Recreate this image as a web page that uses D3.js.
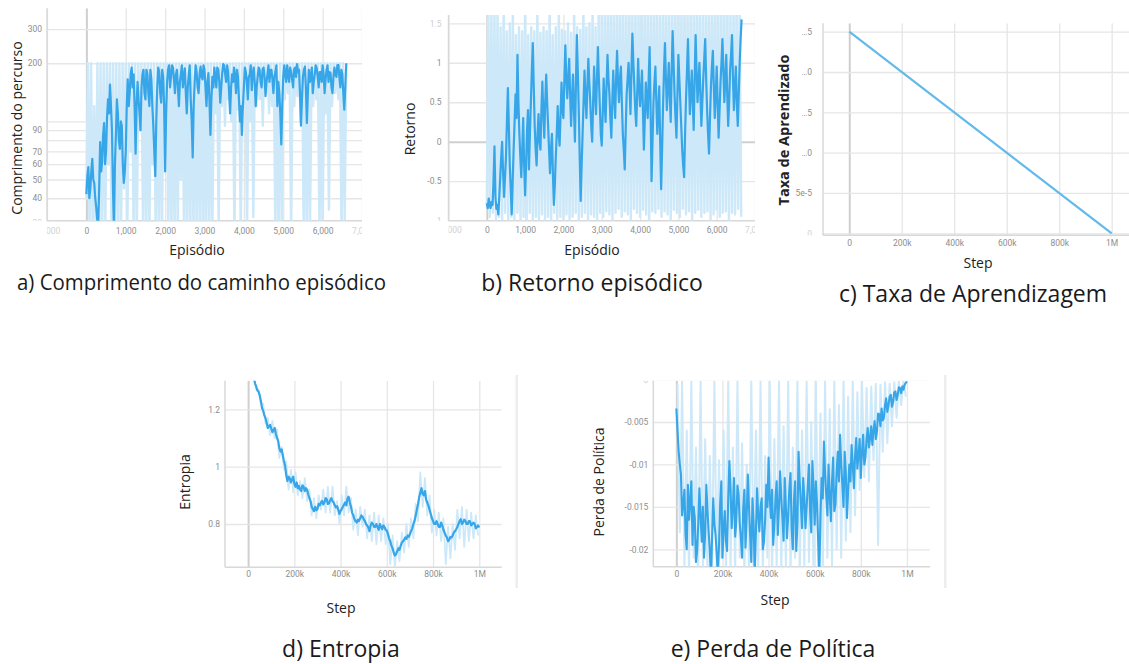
<!DOCTYPE html>
<html>
<head>
<meta charset="utf-8">
<script src="https://cdn.jsdelivr.net/npm/d3@7"></script>
<style>
  body { margin: 0; background: #fff; }
  svg { display: block; }
</style>
</head>
<body>
<svg id="fig" width="1129" height="664"></svg>
<script>
// ---------- data ----------
// a) episode length, smoothed (every 25 episodes) and raw (every 40 episodes)
const smoothLenA = [42,52,58,40,45,55,64,50,48,40,36,31,29,45,78,55,62,85,98,60,
  70,105,130,110,155,120,90,45,28,60,85,130,110,80,72,100,95,60,48,55,
  70,120,165,120,140,175,190,150,175,120,68,120,160,130,110,90,150,175,185,140,
  130,185,175,140,120,185,165,120,95,70,52,100,150,190,180,140,125,185,170,120,
  55,110,160,185,195,150,170,195,190,165,140,175,185,150,120,160,175,195,150,170,
  188,140,110,150,175,195,130,100,65,120,160,195,180,150,140,175,192,170,165,195,
  185,150,120,160,178,130,85,130,170,150,190,170,150,190,185,160,125,150,178,198,
  195,175,160,195,180,140,110,150,175,160,190,170,140,185,170,130,100,120,85,120,
  150,190,180,160,130,170,175,195,145,175,190,160,120,150,170,190,185,160,150,185,
  190,170,135,160,175,195,160,185,185,165,140,170,180,195,120,160,140,110,76,120,
  170,195,175,160,195,175,160,190,180,165,150,185,190,170,198,180,185,140,95,130,
  170,185,192,150,98,140,185,160,170,190,140,160,175,195,188,170,150,180,180,160,
  195,175,140,165,185,195,160,180,178,150,140,170,190,175,170,195,196,170,150,185,
  175,140,115,150,200];
const rawLenA = [40,200,25,200,25,120,25,200,25,200,
  25,200,25,200,60,200,25,200,25,200,
  25,200,25,200,45,200,25,200,70,200,
  25,200,25,200,90,200,25,200,25,200,
  25,200,60,200,25,200,25,200,25,200,
  80,200,25,200,25,200,25,200,25,200,
  50,200,25,200,25,200,25,200,25,200,
  25,200,25,200,25,200,25,200,25,200,
  25,200,110,200,28,200,120,200,95,200,
  130,200,100,200,25,200,115,200,25,200,
  120,200,25,200,100,200,32,200,120,200,
  130,200,95,200,140,200,110,200,120,200,
  25,200,25,200,30,200,130,200,140,200,
  25,200,120,200,135,200,100,200,25,200,
  25,200,28,200,120,200,130,200,25,200,
  25,200,110,200,35,200,120,200,140,200,
  130,200,25,200,30,200];
const episodesSmoothA = d3.range(0, 6601, 25);
const episodesRawA = d3.range(0, 6601, 40);

// b) episodic return, smoothed (every 25 episodes) and raw (every 40 episodes)
const smoothRetB = [-0.78,-0.84,-0.72,-0.80,-0.84,-0.76,-0.80,-0.50,-0.06,-0.70,
  -0.85,-0.80,-0.92,-0.70,-0.45,-0.20,0.0,-0.40,-0.7,-0.45,
  -0.2,0.25,0.68,0.2,-0.3,-0.6,-0.92,-0.5,-0.1,0.25,
  0.6,0.3,1.1,0.5,0.1,-0.2,-0.45,-0.1,0.3,-0.3,
  -0.68,-0.3,0.15,0.4,-0.35,0.1,0.5,0.9,1.25,0.7,
  0.2,-0.1,-0.3,0.1,0.35,0.0,-0.1,0.4,0.76,0.35,
  0.05,0.5,0.85,0.5,0.2,-0.1,-0.4,-0.1,0.1,-0.4,
  -0.8,-0.55,-0.2,0.1,0.45,0.1,-0.05,0.35,0.75,0.4,
  0.3,0.8,1.22,0.8,0.55,0.8,1.05,0.6,0.2,0.55,
  0.85,0.4,0.0,0.7,1.35,0.9,0.4,-0.2,-0.75,-0.3,
  0.1,0.5,0.9,0.55,0.3,0.7,1.05,0.75,0.5,0.2,
  0.0,0.5,0.95,0.6,0.35,0.8,1.2,0.8,0.45,0.1,
  -0.05,0.35,0.8,0.5,0.25,0.7,1.1,0.8,0.6,0.3,
  0.05,0.5,0.9,0.55,0.3,0.8,1.15,0.75,0.5,0.8,
  0.95,0.5,0.1,-0.1,-0.35,0.15,0.6,0.8,1.0,0.7,
  0.35,0.9,1.37,1.0,0.7,0.4,0.2,0.6,1.05,0.7,
  0.45,0.65,0.9,0.4,-0.1,0.3,0.75,0.5,0.3,0.8,
  1.2,0.4,-0.5,0.0,0.5,0.75,0.95,0.5,0.1,0.4,
  0.7,0.0,-0.6,-0.1,0.45,0.9,1.25,0.8,0.4,0.7,
  1.0,0.6,0.25,0.9,1.4,1.0,0.6,0.3,0.05,0.6,
  1.1,0.8,0.5,0.2,-0.1,-0.3,-0.45,0.1,0.55,0.9,
  1.3,0.8,0.35,0.6,0.9,0.5,0.15,0.8,1.35,0.9,
  0.5,0.75,1.0,0.6,0.2,0.5,0.8,1.05,1.3,0.8,
  0.4,0.1,-0.15,0.3,0.7,0.95,1.15,0.7,0.3,0.6,
  0.95,0.5,0.05,0.4,0.75,1.0,1.3,0.9,0.5,0.8,
  1.1,0.6,0.2,0.5,0.9,1.1,1.35,0.8,0.4,0.7,
  0.95,0.5,0.2,0.6,1.0,1.3,1.55];
const rawRetB = [-0.8,1.7,-0.95,1.7,-0.9,1.7,-1.0,1.7,-0.95,1.45,
  -1.0,1.7,-0.9,1.4,-1.0,1.5,-0.95,1.7,-1.0,1.35,
  -0.9,1.45,-1.0,1.4,-0.95,1.8,-1.0,1.35,-0.9,1.45,
  -1.0,1.4,-0.95,1.7,-1.0,1.38,-0.92,1.45,-1.0,1.4,
  -0.95,1.75,-1.0,1.35,-0.9,1.45,-1.0,1.7,-0.95,1.42,
  -1.0,1.4,-0.92,1.5,-1.0,1.38,-0.95,1.7,-0.9,1.45,
  -1.0,1.42,-0.95,1.8,-0.9,1.45,-1.0,1.5,-0.92,1.7,
  -0.95,1.45,-1.0,1.6,-0.9,1.8,-0.95,1.7,-0.88,1.9,
  -0.92,1.75,-1.0,1.85,-0.9,1.7,-0.85,1.9,-0.95,1.8,
  -0.88,1.7,-0.92,1.95,-1.0,1.75,-0.85,1.8,-0.9,1.7,
  -0.95,1.9,-0.86,1.75,-0.92,1.85,-1.0,1.7,-0.88,1.9,
  -0.9,1.8,-0.85,1.7,-0.95,1.9,-0.88,1.75,-0.92,1.85,
  -1.0,1.7,-0.86,1.9,-0.9,1.8,-0.95,1.75,-0.85,1.9,
  -0.92,1.7,-0.88,1.85,-1.0,1.75,-0.9,1.9,-0.86,1.8,
  -0.95,1.7,-0.9,1.85,-0.88,1.75,-1.0,1.9,-0.92,1.8,
  -0.86,1.7,-0.95,1.9,-0.9,1.75,-0.88,1.85,-1.0,1.7,
  -0.9,1.8,-0.92,1.9,-0.85,1.7,-0.95];
const episodesSmoothB = d3.range(0, 6651, 25);
const episodesRawB = d3.range(0, 6641, 40);

// c) learning rate schedule (linear decay)
const lrSteps = [0, 1000000];
const lrValues = [2.5e-4, 0];

// d) entropy, smoothed (every 5k steps) and raw (every 10k, offset 5k)
const smoothEntD = [1.40,1.37,1.36,1.35,1.32,1.31,1.29,1.28,1.266,1.262,
  1.25,1.23,1.205,1.195,1.18,1.17,1.154,1.135,1.14,1.146,
  1.134,1.12,1.128,1.135,1.115,1.10,1.09,1.065,1.053,1.06,
  1.04,1.02,1.003,0.97,0.95,0.965,0.96,0.945,0.955,0.965,
  0.94,0.93,0.945,0.925,0.933,0.92,0.915,0.935,0.93,0.915,
  0.925,0.92,0.904,0.89,0.88,0.86,0.852,0.845,0.86,0.848,
  0.852,0.87,0.865,0.875,0.881,0.868,0.875,0.89,0.887,0.87,
  0.872,0.883,0.89,0.88,0.875,0.865,0.858,0.862,0.85,0.835,
  0.846,0.852,0.86,0.868,0.875,0.865,0.89,0.895,0.875,0.86,
  0.84,0.83,0.817,0.81,0.805,0.815,0.811,0.82,0.83,0.825,
  0.817,0.81,0.80,0.795,0.788,0.775,0.795,0.805,0.80,0.79,
  0.79,0.80,0.788,0.78,0.80,0.79,0.782,0.795,0.79,0.78,
  0.777,0.765,0.75,0.74,0.724,0.715,0.70,0.69,0.695,0.705,
  0.715,0.71,0.724,0.735,0.74,0.745,0.753,0.748,0.76,0.755,
  0.765,0.775,0.785,0.80,0.811,0.83,0.85,0.87,0.893,0.91,
  0.925,0.905,0.90,0.915,0.885,0.875,0.864,0.85,0.835,0.82,
  0.811,0.80,0.80,0.81,0.80,0.79,0.79,0.805,0.794,0.78,
  0.77,0.76,0.753,0.74,0.745,0.755,0.753,0.76,0.77,0.775,
  0.782,0.79,0.80,0.81,0.817,0.80,0.805,0.815,0.811,0.80,
  0.80,0.81,0.809,0.795,0.80,0.805,0.80,0.785,0.79,0.795,
  0.788];
const rawEntD = [1.39,1.33,1.31,1.27,1.27,1.22,1.22,1.15,1.17,1.11,
  1.16,1.10,1.13,1.03,1.07,0.99,1.02,0.92,0.99,0.91,
  0.98,0.90,0.95,0.89,0.96,0.88,0.92,0.83,0.89,0.82,
  0.90,0.85,0.92,0.84,0.93,0.84,0.93,0.83,0.88,0.80,
  0.90,0.83,0.93,0.84,0.89,0.78,0.85,0.76,0.86,0.79,
  0.85,0.75,0.83,0.74,0.84,0.73,0.83,0.74,0.82,0.73,
  0.80,0.66,0.76,0.65,0.74,0.67,0.77,0.70,0.80,0.72,
  0.82,0.75,0.87,0.81,0.98,0.86,0.96,0.83,0.90,0.77,
  0.85,0.76,0.84,0.74,0.82,0.66,0.79,0.68,0.80,0.71,
  0.85,0.75,0.86,0.72,0.85,0.74,0.84,0.75,0.83,0.76];
const stepsSmoothD = d3.range(0, 1000001, 5000);
const stepsRawD = d3.range(5000, 1000000, 10000);

// e) policy loss, smoothed (every 5k steps) and raw (every 10k, offset 5k)
const smoothLossE = [-0.0034,-0.0060,-0.0085,-0.0100,-0.0112,-0.0160,-0.0147,-0.0130,-0.0183,-0.0200,
  -0.0124,-0.0165,-0.0143,-0.0120,-0.0195,-0.0150,-0.0163,-0.0215,-0.0202,-0.0170,
  -0.0128,-0.0160,-0.0191,-0.0150,-0.0210,-0.0180,-0.0124,-0.0155,-0.0179,-0.0200,
  -0.0235,-0.0185,-0.0140,-0.0170,-0.0183,-0.0205,-0.0232,-0.0195,-0.0147,-0.0120,
  -0.0210,-0.0175,-0.0155,-0.0190,-0.0202,-0.0140,-0.0096,-0.0130,-0.0175,-0.0150,
  -0.0116,-0.0185,-0.0167,-0.0125,-0.0136,-0.0170,-0.0187,-0.0210,-0.0151,-0.0130,
  -0.0198,-0.0160,-0.0112,-0.0150,-0.0183,-0.0215,-0.0140,-0.0170,-0.0228,-0.0180,
  -0.0128,-0.0160,-0.0179,-0.0150,-0.0140,-0.0200,-0.0191,-0.0165,-0.0124,-0.0150,
  -0.0092,-0.0140,-0.0163,-0.0130,-0.0195,-0.0170,-0.0140,-0.0120,-0.0183,-0.0150,
  -0.0108,-0.0140,-0.0163,-0.0190,-0.0116,-0.0150,-0.0187,-0.0160,-0.0128,-0.0110,
  -0.0175,-0.0200,-0.0143,-0.0120,-0.0202,-0.0170,-0.0085,-0.0120,-0.0147,-0.0175,
  -0.0116,-0.0140,-0.0175,-0.0150,-0.0124,-0.0100,-0.0155,-0.0180,-0.0096,-0.0130,
  -0.0171,-0.0120,-0.0147,-0.0190,-0.0230,-0.0160,-0.0116,-0.0140,-0.0073,-0.0110,
  -0.0136,-0.0160,-0.0100,-0.0135,-0.0167,-0.0120,-0.0092,-0.0155,-0.0147,-0.0110,
  -0.0085,-0.0120,-0.0065,-0.0100,-0.0124,-0.0150,-0.0085,-0.0110,-0.0163,-0.0130,
  -0.0100,-0.0120,-0.0077,-0.0100,-0.0128,-0.0090,-0.0069,-0.0105,-0.0088,-0.0070,
  -0.0116,-0.0085,-0.0065,-0.0100,-0.0092,-0.0070,-0.0057,-0.0080,-0.0069,-0.0055,
  -0.0077,-0.0060,-0.0049,-0.0070,-0.0061,-0.0040,-0.0041,-0.0055,-0.0034,-0.0048,
  -0.0045,-0.0030,-0.0022,-0.0038,-0.0030,-0.0020,-0.0018,-0.0032,-0.0026,-0.0015,
  -0.0014,-0.0024,-0.0018,-0.0009,-0.0010,-0.0016,-0.0008,-0.0012,-0.0006,-0.0004,
  -0.0002];
const rawLossE = [-0.0005,-0.018,-0.0002,-0.022,-0.006,-0.023,-0.0002,-0.021,-0.008,-0.023,
  -0.0002,-0.022,-0.007,-0.023,-0.009,-0.022,-0.0002,-0.023,-0.0095,-0.021,
  -0.006,-0.023,-0.0002,-0.022,-0.008,-0.023,-0.0002,-0.021,-0.0075,-0.023,
  -0.01,-0.022,-0.0002,-0.023,-0.006,-0.022,-0.0002,-0.023,-0.009,-0.021,
  -0.0002,-0.023,-0.007,-0.022,-0.0002,-0.023,-0.0055,-0.022,-0.0002,-0.023,
  -0.008,-0.021,-0.0002,-0.023,-0.006,-0.022,-0.0002,-0.0215,-0.005,-0.023,
  -0.0002,-0.022,-0.004,-0.023,-0.0002,-0.021,-0.0035,-0.022,-0.0002,-0.02,
  -0.003,-0.021,-0.0002,-0.019,-0.002,-0.018,-0.0002,-0.016,-0.0015,-0.013,
  -0.0002,-0.0115,-0.001,-0.012,-0.0008,-0.0095,-0.0005,-0.0195,-0.0006,-0.0085,
  -0.0003,-0.0075,-0.0005,-0.0055,-0.0003,-0.0045,-0.0002,-0.003,-0.0001,-0.002];
const stepsSmoothE = d3.range(0, 1000001, 5000);
const stepsRawE = d3.range(5000, 1000000, 10000);

// ---------- tick labels ----------
const episodeTicks = [-1000,0,1000,2000,3000,4000,5000,6000,7000];
const stepTicks = [0,200000,400000,600000,800000,1000000];
const stepTickLabels = ["0","200k","400k","600k","800k","1M"];
const lenTicksA = [30,40,50,60,70,80,90,100,200,300];
const lenLabelsA = ["30","40","50","60","70","","90","","200","300"];
const retTicksB = [-1,-0.5,0,0.5,1,1.5];
const retLabelsB = ["-1","-0.5","0","0.5","1","1.5"];
const lrTicksC = [0,5e-5,1e-4,1.5e-4,2e-4,2.5e-4];
const lrLabelsC = ["0","5e-5","\u20260","\u20265","\u20260","\u20265"];
const entTicksD = [0.8,1,1.2];
const entLabelsD = ["0.8","1","1.2"];
const lossTicksE = [-0.02,-0.015,-0.01,-0.005,0];
const lossLabelsE = ["-0.02","-0.015","-0.01","-0.005","0"];

// ---------- drawing ----------
const svg = d3.select("#fig");
const defs = svg.append("defs");
const DARK = "#36a6e8", LIGHT = "#cde8f8";
const TICK_FONT = "Roboto, 'Liberation Sans', sans-serif";
const TEXT_FONT = "'Open Sans', 'Noto Sans', sans-serif";

function clipRect(id, x, y, w, h) {
  defs.append("clipPath").attr("id", id)
    .append("rect").attr("x", x).attr("y", y).attr("width", w).attr("height", h);
  return `url(#${id})`;
}

function labelFor(ticks, labels) {
  return d => labels[ticks.indexOf(d)];
}

function panel(o) {
  const [X0, X1] = o.x.range();
  const [Y1, Y0] = o.y.range();
  const g = svg.append("g");

  // vertical grid + x tick labels
  const gx = g.append("g")
    .attr("clip-path", clipRect(o.id + "-x", X0, Y0, X1 - X0, Y1 - Y0 + 30))
    .append("g").attr("transform", `translate(0,${Y1})`)
    .call(d3.axisBottom(o.x).tickValues(o.xTicks).tickFormat(o.xFmt)
      .tickSize(-(Y1 - Y0)).tickPadding(o.xPad));
  gx.select(".domain").remove();
  gx.selectAll(".tick line")
    .attr("stroke", d => d === 0 ? "#cfcfcf" : "#e6e6e6")
    .attr("stroke-width", d => d === 0 ? 2 : 1.3);
  gx.selectAll(".tick text")
    .attr("font-family", TICK_FONT).attr("font-size", 8.5)
    .attr("fill", d => o.xFaint && o.xFaint.includes(d) ? "#d2d2d2" : "#8e8e8e");

  // horizontal grid + y tick labels
  const gy = g.append("g")
    .attr("clip-path", clipRect(o.id + "-y", X0 - 80, Y0, X1 - X0 + 80, Y1 - Y0))
    .append("g").attr("transform", `translate(${X0},0)`)
    .call(d3.axisLeft(o.y).tickValues(o.yTicks).tickFormat(o.yFmt)
      .tickSize(-(X1 - X0)).tickPadding(o.yPad));
  gy.select(".domain").remove();
  gy.selectAll(".tick line")
    .attr("stroke", d => (o.yZero && d === 0) ? "#cfcfcf" : "#e6e6e6")
    .attr("stroke-width", d => (o.yZero && d === 0) ? 2 : 1.3);
  gy.selectAll(".tick text")
    .attr("font-family", TICK_FONT).attr("font-size", 8.5)
    .attr("fill", d => o.yFaint && o.yFaint.includes(d) ? "#cfcfcf" : "#8e8e8e");

  // frame: left and bottom axis lines
  g.append("line").attr("x1", X0).attr("x2", X0).attr("y1", Y0).attr("y2", Y1)
    .attr("stroke", "#d8d8d8").attr("stroke-width", 1.5);
  g.append("line").attr("x1", X0).attr("x2", X1).attr("y1", Y1).attr("y2", Y1)
    .attr("stroke", "#d8d8d8").attr("stroke-width", 1.5);

  // series
  const plotClip = clipRect(o.id + "-p", X0, Y0, X1 - X0, Y1 - Y0);
  o.series.forEach(s => {
    const pts = s.xs.map((xv, i) => [xv, s.ys[i]]);
    g.append("path").datum(pts)
      .attr("clip-path", plotClip)
      .attr("fill", "none")
      .attr("stroke", s.color)
      .attr("stroke-width", s.width)
      .attr("stroke-linejoin", "round")
      .attr("d", d3.line().x(d => o.x(d[0])).y(d => o.y(d[1])));
  });

  // titles
  g.append("text")
    .attr("transform", `translate(${o.yTitle.x},${o.yTitle.y}) rotate(-90)`)
    .attr("text-anchor", "middle").attr("dy", "0.35em")
    .attr("font-family", TEXT_FONT).attr("font-size", o.yTitle.size || 14)
    .attr("font-weight", o.yTitle.bold ? 700 : 400)
    .attr("fill", "#222").text(o.yTitle.text);
  g.append("text")
    .attr("x", o.xTitle.x).attr("y", o.xTitle.y)
    .attr("text-anchor", "middle").attr("dy", "0.35em")
    .attr("font-family", TEXT_FONT).attr("font-size", 14)
    .attr("fill", "#222").text(o.xTitle.text);
  const cap = g.append("text")
    .attr("x", o.caption.x).attr("y", o.caption.y)
    .attr("text-anchor", "middle").attr("dy", "0.35em")
    .attr("font-family", TEXT_FONT).attr("font-size", o.caption.size)
    .attr("fill", "#1a1a1a").text(o.caption.text);
  if (o.caption.length) cap.attr("textLength", o.caption.length).attr("lengthAdjust", "spacingAndGlyphs");

  if (o.sideBar) {
    g.append("rect").attr("x", o.sideBar.x).attr("y", o.sideBar.y0)
      .attr("width", 2.5).attr("height", o.sideBar.y1 - o.sideBar.y0)
      .attr("fill", "#ededed");
  }
}

const fmtComma = d3.format(",");

// a) Comprimento do caminho episódico
panel({
  id: "pa",
  x: d3.scaleLinear().domain([-1000, 7000]).range([47, 362]),
  y: d3.scaleLog().domain([30.6, 385]).range([220.7, 8.3]),
  xTicks: episodeTicks, xFmt: fmtComma, xPad: 7, xFaint: [-1000, 7000],
  yTicks: lenTicksA, yFmt: labelFor(lenTicksA, lenLabelsA), yPad: 5, yFaint: [30],
  series: [
    { xs: episodesRawA, ys: rawLenA, color: LIGHT, width: 2.4 },
    { xs: episodesSmoothA, ys: smoothLenA, color: DARK, width: 2.2 }
  ],
  yTitle: { text: "Comprimento do percurso", x: 17, y: 128 },
  xTitle: { text: "Episódio", x: 197, y: 250 },
  caption: { text: "a) Comprimento do caminho episódico", x: 201.5, y: 282.5, size: 21.5, length: 369 }
});

// b) Retorno episódico
panel({
  id: "pb",
  x: d3.scaleLinear().domain([-1000, 7000]).range([448.5, 755]),
  y: d3.scaleLinear().domain([-1, 1.605]).range([220.7, 15]),
  xTicks: episodeTicks, xFmt: fmtComma, xPad: 6, xFaint: [-1000, 7000],
  yTicks: retTicksB, yFmt: labelFor(retTicksB, retLabelsB), yPad: 7, yFaint: [-1, 1.5],
  yZero: true,
  series: [
    { xs: episodesRawB, ys: rawRetB, color: LIGHT, width: 2.4 },
    { xs: episodesSmoothB, ys: smoothRetB, color: DARK, width: 2.2 }
  ],
  yTitle: { text: "Retorno", x: 410, y: 129 },
  xTitle: { text: "Episódio", x: 592, y: 250 },
  caption: { text: "b) Retorno episódico", x: 592, y: 283, size: 23 }
});

// c) Taxa de Aprendizagem
panel({
  id: "pc",
  x: d3.scaleLinear().domain([-100000, 1066000]).range([823, 1129]),
  y: d3.scaleLinear().domain([-0.0000025, 0.0002604]).range([235.3, 23.3]),
  xTicks: stepTicks, xFmt: labelFor(stepTicks, stepTickLabels), xPad: 5,
  yTicks: lrTicksC, yFmt: labelFor(lrTicksC, lrLabelsC), yPad: 11, yFaint: [0],
  series: [
    { xs: lrSteps, ys: lrValues, color: "#62b9ea", width: 2.2 }
  ],
  yTitle: { text: "Taxa de Aprendizado", x: 784, y: 130, bold: true, size: 14.5 },
  xTitle: { text: "Step", x: 978, y: 263 },
  caption: { text: "c) Taxa de Aprendizagem", x: 973, y: 294, size: 23 }
});

// d) Entropia
panel({
  id: "pd",
  x: d3.scaleLinear().domain([-100000, 1097000]).range([225, 501.7]),
  y: d3.scaleLinear().domain([0.649, 1.3]).range([567.3, 380.7]),
  xTicks: stepTicks, xFmt: labelFor(stepTicks, stepTickLabels), xPad: 4,
  yTicks: entTicksD, yFmt: labelFor(entTicksD, entLabelsD), yPad: 5,
  series: [
    { xs: stepsRawD, ys: rawEntD, color: LIGHT, width: 1.8 },
    { xs: stepsSmoothD, ys: smoothEntD, color: DARK, width: 2.2 }
  ],
  yTitle: { text: "Entropia", x: 185, y: 482 },
  xTitle: { text: "Step", x: 341, y: 608 },
  caption: { text: "d) Entropia", x: 341, y: 649, size: 23 },
  sideBar: { x: 515.5, y0: 375, y1: 588 }
});

// e) Perda de Política
panel({
  id: "pe",
  x: d3.scaleLinear().domain([-100000, 1100000]).range([653.3, 930]),
  y: d3.scaleLinear().domain([-0.02205, -0.00013]).range([566.7, 380.7]),
  xTicks: stepTicks, xFmt: labelFor(stepTicks, stepTickLabels), xPad: 4,
  yTicks: lossTicksE, yFmt: labelFor(lossTicksE, lossLabelsE), yPad: 5, yFaint: [0],
  series: [
    { xs: stepsRawE, ys: rawLossE, color: LIGHT, width: 2.0 },
    { xs: stepsSmoothE, ys: smoothLossE, color: DARK, width: 2.1 }
  ],
  yTitle: { text: "Perda de Política", x: 599, y: 482 },
  xTitle: { text: "Step", x: 775, y: 600 },
  caption: { text: "e) Perda de Política", x: 773, y: 649, size: 23 },
  sideBar: { x: 944, y0: 375, y1: 588 }
});
</script>
</body>
</html>
